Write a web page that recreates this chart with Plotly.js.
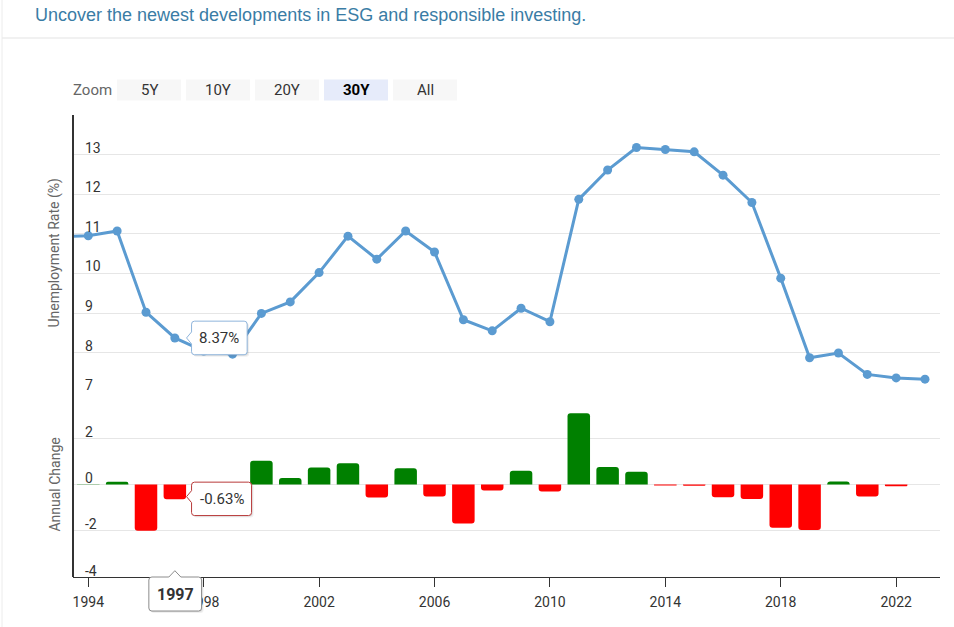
<!DOCTYPE html>
<html>
<head>
<meta charset="utf-8">
<script src="https://cdn.plot.ly/plotly-3.0.1.min.js"></script>
<style>
  html, body { margin: 0; padding: 0; background: #ffffff; }
  #chart { width: 954px; height: 627px; }
</style>
</head>
<body>
<div id="chart"></div>
<script>
// ---------- data ----------
const years = [1993, 1994, 1995, 1996, 1997, 1998, 1999, 2000, 2001, 2002, 2003, 2004, 2005, 2006, 2007, 2008,
               2009, 2010, 2011, 2012, 2013, 2014, 2015, 2016, 2017, 2018, 2019, 2020, 2021, 2022, 2023];
const unemploymentRate = [10.93, 10.95, 11.07, 9.02, 8.37, 8.04, 7.96, 8.99, 9.28, 10.02, 10.94, 10.36, 11.07, 10.54, 8.83, 8.55,
                          9.12, 8.78, 11.87, 12.61, 13.18, 13.13, 13.07, 12.48, 11.79, 9.88, 7.87, 7.99, 7.45, 7.36, 7.33];
const annualChange = [null, 0.02, 0.12, -2.0, -0.63, -0.35, -0.08, 1.03, 0.29, 0.74, 0.92, -0.56, 0.71, -0.51, -1.68, -0.25,
                      0.6, -0.3, 3.09, 0.76, 0.56, -0.04, -0.05, -0.55, -0.62, -1.87, -1.96, 0.13, -0.51, -0.07, null];
const xTickYears = [1994, 1998, 2002, 2006, 2010, 2014, 2018, 2022];
const rateTicks = [7, 8, 9, 10, 11, 12, 13, 14];
const rateTickText = ['7', '8', '9', '10', '11', '12', '13', ''];
const changeTicks = [-4, -2, 0, 2, 4];
const changeTickText = ['-4', '-2', '0', '2', ''];
const zoomButtons = ['5Y', '10Y', '20Y', '30Y', 'All'];
const selectedButton = '30Y';
const hoverYear = 1997;

// ---------- styling ----------
const LINE = '#5b9bd1';
const UP = '#008000';
const DOWN = '#ff0000';
const xRange = [1993.47, 2023.52];
const rateRange = [7, 14];
const changeRange = [-4, 4];
const M = { l: 73, r: 14, t: 115, b: 50 };
const W = 954, H = 627;
const PW = W - M.l - M.r, PH = H - M.t - M.b;

const barColors = annualChange.map(v => (v !== null && v < 0) ? DOWN : UP);

// helpers converting data to paper fractions (for tooltip callouts)
const toPX = v => (v - xRange[0]) / (xRange[1] - xRange[0]);
const topY = v => 0.4 + 0.6 * (v - rateRange[0]) / (rateRange[1] - rateRange[0]);
const botY = v => 0.4 * (v - changeRange[0]) / (changeRange[1] - changeRange[0]);
const pxX = p => (p - M.l) / PW;
const pxY = p => (H - M.b - p) / PH;

function callout(b, n) {
  const r = 3;
  const P = (x, y) => x.toFixed(1) + ',' + (-y).toFixed(1);
  let d = 'M' + P(b.x0 + r, b.y0);
  if (n.side === 'top') d += ' L' + P(n.cx - 6, b.y0) + ' L' + P(n.tx, n.ty) + ' L' + P(n.cx + 6, b.y0);
  d += ' L' + P(b.x1 - r, b.y0) + ' Q' + P(b.x1, b.y0) + ' ' + P(b.x1, b.y0 + r);
  d += ' L' + P(b.x1, b.y1 - r) + ' Q' + P(b.x1, b.y1) + ' ' + P(b.x1 - r, b.y1);
  d += ' L' + P(b.x0 + r, b.y1) + ' Q' + P(b.x0, b.y1) + ' ' + P(b.x0, b.y1 - r);
  if (n.side === 'left') d += ' L' + P(b.x0, n.cy + 6) + ' L' + P(n.tx, n.ty) + ' L' + P(b.x0, n.cy - 6);
  d += ' L' + P(b.x0, b.y0 + r) + ' Q' + P(b.x0, b.y0) + ' ' + P(b.x0 + r, b.y0) + ' Z';
  return d;
}

function tooltipShapes(ax, ay, b, n, border) {
  const out = [];
  [[2, 0.06], [1, 0.08]].forEach(([o, a]) => {
    const bb = { x0: b.x0 + o, x1: b.x1 + o, y0: b.y0 + o, y1: b.y1 + o };
    const nn = Object.assign({}, n, { tx: n.tx + o, ty: n.ty + o, cx: (n.cx || 0) + o, cy: (n.cy || 0) + o });
    out.push({ type: 'path', xref: 'paper', yref: 'paper', xsizemode: 'pixel', ysizemode: 'pixel',
      xanchor: ax, yanchor: ay, path: callout(bb, nn), fillcolor: 'rgba(0,0,0,' + a + ')', line: { width: 0 }, layer: 'above' });
  });
  out.push({ type: 'path', xref: 'paper', yref: 'paper', xsizemode: 'pixel', ysizemode: 'pixel',
    xanchor: ax, yanchor: ay, path: callout(b, n), fillcolor: '#ffffff', line: { color: border, width: 1 }, layer: 'above' });
  return out;
}

const hi = years.indexOf(hoverYear);
const tipRate = unemploymentRate[hi];
const tipChange = annualChange[hi];

const shapes = [
  // page chrome: separator and left border
  { type: 'line', xref: 'paper', yref: 'paper', x0: pxX(2), x1: pxX(W), y0: pxY(38), y1: pxY(38), line: { color: '#e3e3e3', width: 1 } },
  { type: 'line', xref: 'paper', yref: 'paper', x0: pxX(2), x1: pxX(2), y0: pxY(0), y1: pxY(H), line: { color: '#ececec', width: 1 } },
  // left axis line spanning both panels
  { type: 'line', xref: 'paper', yref: 'paper', x0: 0, x1: 0, y0: 0, y1: 1, line: { color: '#333333', width: 2 }, layer: 'above' },
];
const annotations = [];

// y tick labels (Highcharts style: inside, above the grid line)
rateTicks.forEach((v, i) => {
  if (!rateTickText[i]) return;
  annotations.push({ xref: 'paper', yref: 'y', x: pxX(83), y: v, yshift: 7, text: rateTickText[i], showarrow: false,
    xanchor: 'left', yanchor: 'middle', font: { family: 'Roboto', size: 14, color: '#333333' } });
});
changeTicks.forEach((v, i) => {
  if (!changeTickText[i]) return;
  annotations.push({ xref: 'paper', yref: 'y2', x: pxX(83), y: v, yshift: 6.5, text: changeTickText[i], showarrow: false,
    xanchor: 'left', yanchor: 'middle', font: { family: 'Roboto', size: 14, color: '#333333' } });
});
// y axis titles
annotations.push({ xref: 'paper', yref: 'paper', x: pxX(55), y: 0.7, text: 'Unemployment Rate (%)', textangle: -90,
  showarrow: false, xanchor: 'center', yanchor: 'middle', font: { family: 'Roboto', size: 14, color: '#666666' } });
annotations.push({ xref: 'paper', yref: 'paper', x: pxX(55), y: 0.2, text: 'Annual Change', textangle: -90,
  showarrow: false, xanchor: 'center', yanchor: 'middle', font: { family: 'Roboto', size: 14, color: '#666666' } });

// zoom buttons
const btnX0 = [117, 186, 255, 324, 393];
zoomButtons.forEach((lab, i) => {
  const sel = lab === selectedButton;
  shapes.push({ type: 'rect', xref: 'paper', yref: 'paper', x0: pxX(btnX0[i]), x1: pxX(btnX0[i] + 64),
    y0: pxY(100.5), y1: pxY(79.5), fillcolor: sel ? '#e6ebfa' : '#f7f7f7', line: { width: 0 }, layer: 'below' });
  annotations.push({ xref: 'paper', yref: 'paper', x: pxX(btnX0[i] + 32), y: pxY(90), text: sel ? '<b>' + lab + '</b>' : lab,
    showarrow: false, xanchor: 'center', yanchor: 'middle', font: { family: 'Roboto', size: 15, color: sel ? '#000000' : '#333333' } });
});
annotations.push({ xref: 'paper', yref: 'paper', x: pxX(92), y: pxY(90), text: 'Zoom', showarrow: false,
  xanchor: 'center', yanchor: 'middle', font: { family: 'Roboto', size: 15, color: '#666666' } });

// tooltips
const ax = toPX(hoverYear);
shapes.push(...tooltipShapes(ax, topY(tipRate), { x0: 16.7, x1: 72.3, y0: -16.8, y1: 16.8 },
  { side: 'left', cy: 0, tx: 11.7, ty: 0 }, '#8fb5dc'));
shapes.push(...tooltipShapes(ax, botY(tipChange), { x0: 16.7, x1: 76.7, y0: -17, y1: 16.4 },
  { side: 'left', cy: -2.5, tx: 11.7, ty: -2.5 }, '#b83a3a'));
shapes.push(...tooltipShapes(ax, botY(changeRange[0]), { x0: -26, x1: 26.7, y0: 0, y1: 34 },
  { side: 'top', cx: 0, tx: 0, ty: -6.3 }, '#8c8c8c'));

annotations.push({ xref: 'paper', yref: 'paper', x: ax, y: topY(tipRate), xshift: 44.5, yshift: 0,
  text: tipRate.toFixed(2) + '%', showarrow: false, xanchor: 'center', yanchor: 'middle',
  font: { family: 'Roboto', size: 15, color: '#333333' } });
annotations.push({ xref: 'paper', yref: 'paper', x: ax, y: botY(tipChange), xshift: 46.7, yshift: 0,
  text: tipChange.toFixed(2) + '%', showarrow: false, xanchor: 'center', yanchor: 'middle',
  font: { family: 'Roboto', size: 15, color: '#333333' } });
annotations.push({ xref: 'paper', yref: 'paper', x: ax, y: botY(changeRange[0]), xshift: 0.3, yshift: -17,
  text: '<b>' + hoverYear + '</b>', showarrow: false, xanchor: 'center', yanchor: 'middle',
  font: { family: 'Roboto', size: 16, color: '#333333' } });

const traces = [
  {
    type: 'scatter', mode: 'lines+markers', x: years, y: unemploymentRate, xaxis: 'x', yaxis: 'y',
    line: { color: LINE, width: 3 }, marker: { color: LINE, size: 9 }, hoverinfo: 'skip'
  },
  {
    type: 'bar', x: years, y: annualChange, xaxis: 'x', yaxis: 'y2', width: 0.78,
    marker: { color: barColors, cornerradius: 3, line: { width: 0 } }, hoverinfo: 'skip'
  }
];

const layout = {
  width: W, height: H,
  margin: M,
  paper_bgcolor: '#ffffff', plot_bgcolor: '#ffffff',
  showlegend: false, hovermode: false,
  font: { family: 'Roboto', color: '#333333' },
  title: {
    text: 'Uncover the newest developments in ESG and responsible investing.',
    xref: 'container', yref: 'container', x: 35 / W, xanchor: 'left', y: 1 - 15 / H, yanchor: 'middle',
    font: { family: 'Liberation Sans', size: 18, color: '#3a7ca5' }
  },
  xaxis: {
    range: xRange, anchor: 'y2', tickvals: xTickYears, ticktext: xTickYears.map(String),
    ticks: 'outside', ticklen: 9, tickcolor: '#333333', tickwidth: 1, ticklabelstandoff: 3,
    showline: true, linecolor: '#333333', linewidth: 1, showgrid: false, zeroline: false,
    tickfont: { size: 14, color: '#333333' }, fixedrange: true
  },
  yaxis: {
    domain: [0.4, 1], range: rateRange, anchor: 'x', tickvals: rateTicks, showticklabels: false,
    ticks: '', gridcolor: '#e6e6e6', gridwidth: 1, showline: false, zeroline: false
  },
  yaxis2: {
    domain: [0, 0.4], range: changeRange, anchor: 'x', tickvals: changeTicks, showticklabels: false,
    ticks: '', gridcolor: '#e6e6e6', gridwidth: 1, showline: false, zeroline: false
  },
  shapes: shapes,
  annotations: annotations
};

Plotly.newPlot('chart', traces, layout, { displayModeBar: false, staticPlot: true });
</script>
</body>
</html>
